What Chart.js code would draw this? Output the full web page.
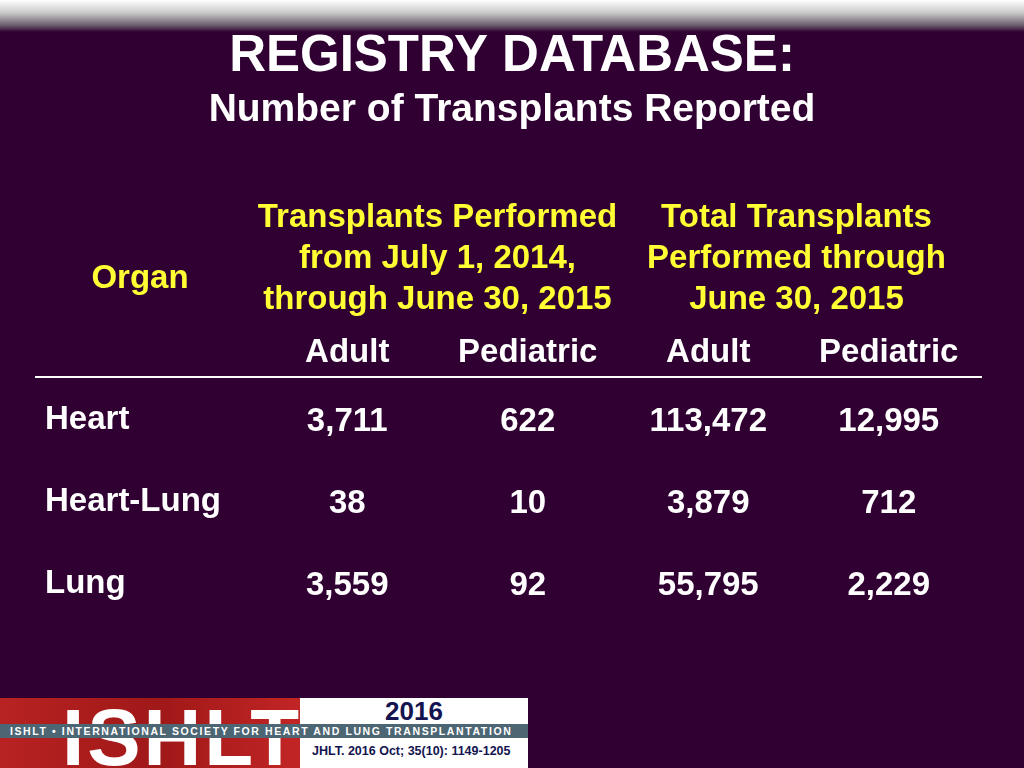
<!DOCTYPE html>
<html><head><meta charset="utf-8">
<script src="https://cdn.jsdelivr.net/npm/chart.js@4"></script>
<style>
html,body{margin:0;padding:0;background:#2f0031;width:1024px;height:768px;overflow:hidden;font-family:"Liberation Sans",Arial,sans-serif}
#top{position:absolute;left:0;top:0;width:1024px;height:32px;background:linear-gradient(#ffffff,#c9c9c9 40%,#6a5a6a 80%,#2f0031)}
#wrap{position:absolute;left:0;top:0;width:1024px;height:768px}
#logo{position:absolute;left:0;top:698px;width:528px;height:70px;background:linear-gradient(90deg,#b82222,#a01818 30%,#c02424 55%);overflow:hidden}
#logoTxt{position:absolute;left:62px;top:-6px;color:#fff;font:bold 80px "Liberation Sans";letter-spacing:3px}
#strip{position:absolute;left:0;top:26px;width:528px;height:14px;background:#4d6673;color:#fff;font:bold 10.5px "Liberation Sans";letter-spacing:1.6px;line-height:14px;padding-left:10px;box-sizing:border-box;white-space:nowrap}
#box{position:absolute;left:300px;top:0;width:228px;height:70px;background:#fff}
#yr{position:absolute;left:0;width:228px;top:-2px;text-align:center;color:#141450;font:bold 26px "Liberation Sans"}
#cite{position:absolute;left:12px;top:46px;color:#141450;font:bold 12.5px "Liberation Sans"}
</style></head><body>
<div id="top"></div>
<div id="wrap"><canvas id="c" width="1024" height="768"></canvas></div>
<div id="logo"><div id="logoTxt">ISHLT</div>
<div id="box"><div id="yr">2016</div><div id="cite">JHLT. 2016 Oct; 35(10): 1149-1205</div></div>
<div id="strip">ISHLT • INTERNATIONAL SOCIETY FOR HEART AND LUNG TRANSPLANTATION</div></div>
<script>
const title = "REGISTRY DATABASE:";
const subtitle = "Number of Transplants Reported";
const organs = ["Heart","Heart-Lung","Lung"];
const columns = ["Adult A","Pediatric A","Adult B","Pediatric B"];
const columnLabels = ["Adult","Pediatric","Adult","Pediatric"];
const groupHeaders = [["Transplants Performed","from July 1, 2014,","through June 30, 2015"],["Total Transplants","Performed through","June 30, 2015"]];
const adultPeriod = [3711,38,3559];
const pediatricPeriod = [622,10,92];
const adultTotal = [113472,3879,55795];
const pediatricTotal = [12995,712,2229];
const seriesValues = [adultPeriod,pediatricPeriod,adultTotal,pediatricTotal];

const fmt = v => v.toLocaleString('en-US');
const datasets = seriesValues.map((vals,ci)=>({
  label: columns[ci],
  data: vals.map((v,ri)=>({x:columns[ci],y:organs[ri],v})),
  showLine:false, pointRadius:0
}));

function txt(ctx,t,x,y,align){
  ctx.textAlign=align||'center';
  ctx.fillText(t,x,y);
}

const tablePlugin = {
  id:'table',
  afterDraw(chart){
    const ctx = chart.ctx, xs = chart.scales.x, ys = chart.scales.y;
    ctx.save();
    ctx.textBaseline='middle';
    ctx.fillStyle='#ffffff';
    ctx.font='bold 51px "Liberation Sans"';
    txt(ctx,title,512,57);
    ctx.font='bold 39px "Liberation Sans"';
    txt(ctx,subtitle,512,110);
    ctx.fillStyle='#ffff33';
    ctx.font='bold 33px "Liberation Sans"';
    const g1 = (xs.getPixelForValue(0)+xs.getPixelForValue(1))/2;
    const g2 = (xs.getPixelForValue(2)+xs.getPixelForValue(3))/2;
    [g1,g2].forEach((gx,gi)=>groupHeaders[gi].forEach((t,li)=>txt(ctx,t,gx+(gi?-2:0),218+li*41)));
    txt(ctx,"Organ",140,279);
    ctx.fillStyle='#ffffff';
    columnLabels.forEach((t,i)=>txt(ctx,t,xs.getPixelForValue(i),353));
    ctx.strokeStyle='#ffffff'; ctx.lineWidth=2;
    ctx.beginPath(); ctx.moveTo(35,377); ctx.lineTo(982,377); ctx.stroke();
    organs.forEach((o,i)=>txt(ctx,o,45,ys.getPixelForValue(i),'left'));
    chart.data.datasets.forEach((ds,di)=>{
      chart.getDatasetMeta(di).data.forEach((el,i)=>txt(ctx,fmt(ds.data[i].v),el.x,el.y+2));
    });
    ctx.restore();
  }
};

new Chart(document.getElementById('c'),{
  type:'line',
  data:{datasets},
  options:{
    responsive:false, animation:false,
    layout:{padding:{left:257,right:45,top:379,bottom:143}},
    plugins:{legend:{display:false},tooltip:{enabled:false}},
    scales:{
      x:{type:'category',labels:columns,offset:true,display:false},
      y:{type:'category',labels:organs,offset:true,display:false}
    }
  },
  plugins:[tablePlugin]
});
</script>
</body></html>
